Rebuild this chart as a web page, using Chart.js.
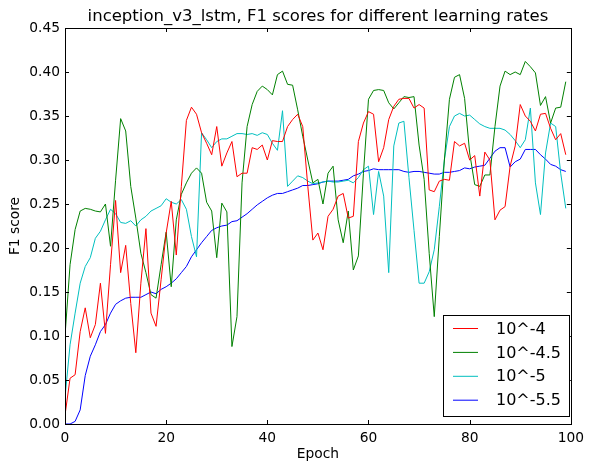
<!DOCTYPE html>
<html>
<head>
<meta charset="utf-8">
<script src="https://cdn.jsdelivr.net/npm/chart.js@4"></script>
<style>
  body { margin: 0; background: #fff; }
  canvas { display: block; }
</style>
</head>
<body>
<canvas id="f1Chart" width="590" height="464"></canvas>
<script>
// epochs on the x axis
const epochs = [
  0, 1, 2, 3, 4, 5, 6, 7, 8, 9, 10, 11, 12, 13, 14, 15, 16, 17, 18, 19,
  20, 21, 22, 23, 24, 25, 26, 27, 28, 29, 30, 31, 32, 33, 34, 35, 36, 37, 38, 39,
  40, 41, 42, 43, 44, 45, 46, 47, 48, 49, 50, 51, 52, 53, 54, 55, 56, 57, 58, 59,
  60, 61, 62, 63, 64, 65, 66, 67, 68, 69, 70, 71, 72, 73, 74, 75, 76, 77, 78, 79,
  80, 81, 82, 83, 84, 85, 86, 87, 88, 89, 90, 91, 92, 93, 94, 95, 96, 97, 98, 99
];

// F1 score per learning rate
const lr_4 = [
  0.010, 0.052, 0.056, 0.105, 0.132, 0.098, 0.113, 0.160, 0.103, 0.181,
  0.254, 0.172, 0.203, 0.137, 0.081, 0.160, 0.222, 0.126, 0.111, 0.164,
  0.217, 0.253, 0.192, 0.270, 0.345, 0.360, 0.352, 0.331, 0.319, 0.306,
  0.338, 0.293, 0.308, 0.321, 0.281, 0.285, 0.285, 0.314, 0.312, 0.317,
  0.300, 0.322, 0.321, 0.321, 0.338, 0.346, 0.352, 0.338, 0.270, 0.209,
  0.217, 0.198, 0.236, 0.244, 0.259, 0.262, 0.234, 0.236, 0.321, 0.342,
  0.355, 0.352, 0.298, 0.314, 0.346, 0.361, 0.369, 0.370, 0.370, 0.359,
  0.363, 0.359, 0.266, 0.264, 0.276, 0.278, 0.277, 0.321, 0.316, 0.319,
  0.300, 0.305, 0.259, 0.309, 0.300, 0.232, 0.243, 0.247, 0.293, 0.316,
  0.363, 0.350, 0.344, 0.333, 0.352, 0.353, 0.336, 0.323, 0.330, 0.306
];
const lr_4_5 = [
  0.100, 0.181, 0.221, 0.242, 0.245, 0.244, 0.242, 0.241, 0.250, 0.202,
  0.277, 0.347, 0.333, 0.270, 0.234, 0.194, 0.172, 0.147, 0.143, 0.181,
  0.218, 0.156, 0.232, 0.261, 0.274, 0.285, 0.291, 0.285, 0.252, 0.242,
  0.189, 0.251, 0.241, 0.088, 0.122, 0.274, 0.338, 0.363, 0.378, 0.384,
  0.380, 0.374, 0.397, 0.401, 0.386, 0.385, 0.357, 0.327, 0.300, 0.274,
  0.278, 0.250, 0.285, 0.293, 0.232, 0.206, 0.242, 0.175, 0.191, 0.285,
  0.369, 0.379, 0.380, 0.379, 0.365, 0.358, 0.365, 0.372, 0.371, 0.372,
  0.317, 0.278, 0.194, 0.122, 0.213, 0.300, 0.369, 0.394, 0.397, 0.370,
  0.308, 0.272, 0.270, 0.283, 0.283, 0.338, 0.384, 0.401, 0.397, 0.400,
  0.397, 0.412, 0.406, 0.399, 0.362, 0.372, 0.342, 0.359, 0.360, 0.389
];
const lr_5 = [
  0.030, 0.090, 0.126, 0.160, 0.179, 0.189, 0.211, 0.219, 0.232, 0.244,
  0.239, 0.229, 0.228, 0.231, 0.225, 0.232, 0.236, 0.242, 0.245, 0.248,
  0.256, 0.252, 0.250, 0.255, 0.244, 0.213, 0.190, 0.331, 0.323, 0.314,
  0.321, 0.324, 0.324, 0.327, 0.330, 0.330, 0.329, 0.330, 0.328, 0.331,
  0.329, 0.319, 0.311, 0.356, 0.270, 0.276, 0.282, 0.280, 0.276, 0.273,
  0.274, 0.275, 0.276, 0.275, 0.275, 0.276, 0.277, 0.274, 0.280, 0.289,
  0.293, 0.238, 0.287, 0.259, 0.172, 0.316, 0.342, 0.344, 0.280, 0.220,
  0.160, 0.160, 0.173, 0.198, 0.247, 0.300, 0.338, 0.350, 0.353, 0.350,
  0.351, 0.346, 0.341, 0.338, 0.336, 0.336, 0.336, 0.334, 0.329, 0.322,
  0.314, 0.323, 0.359, 0.274, 0.238, 0.308, 0.342, 0.338, 0.285, 0.245
];
const lr_5_5 = [
  0.000, 0.000, 0.003, 0.016, 0.055, 0.077, 0.090, 0.105, 0.113, 0.126,
  0.136, 0.140, 0.143, 0.144, 0.144, 0.144, 0.147, 0.150, 0.148, 0.153,
  0.156, 0.160, 0.165, 0.172, 0.179, 0.190, 0.198, 0.206, 0.213, 0.220,
  0.223, 0.225, 0.226, 0.230, 0.231, 0.235, 0.239, 0.244, 0.249, 0.253,
  0.257, 0.260, 0.262, 0.262, 0.264, 0.266, 0.268, 0.271, 0.271, 0.272,
  0.273, 0.275, 0.276, 0.276, 0.276, 0.277, 0.278, 0.282, 0.284, 0.287,
  0.288, 0.290, 0.289, 0.289, 0.289, 0.289, 0.289, 0.287, 0.286, 0.287,
  0.287, 0.286, 0.285, 0.284, 0.284, 0.286, 0.286, 0.287, 0.288, 0.291,
  0.290, 0.292, 0.293, 0.294, 0.302, 0.310, 0.314, 0.314, 0.292, 0.298,
  0.301, 0.312, 0.312, 0.312, 0.306, 0.301, 0.295, 0.293, 0.289, 0.287
];

const chartTitle = "inception_v3_lstm, F1 scores for different learning rates";
const seriesLabels = ["10^-4", "10^-4.5", "10^-5", "10^-5.5"];
const seriesColors = ["#ff0000", "#008000", "#00bfbf", "#0000ff"];
const xTicks = [0, 20, 40, 60, 80, 100];
const yTicks = [0, 0.05, 0.10, 0.15, 0.20, 0.25, 0.30, 0.35, 0.40, 0.45];

const FONT = "'DejaVu Sans', sans-serif";

function toPoints(values) {
  return values.map((v, i) => ({ x: epochs[i], y: v }));
}

// matplotlib-like frame: title over the axes, black box, inward ticks, legend lower right
const framePlugin = {
  id: "frame",
  afterDraw(chart) {
    const ctx = chart.ctx;
    const a = chart.chartArea;
    const xs = chart.scales.x, ys = chart.scales.y;
    ctx.save();

    // title centred on the plot area, not the canvas
    ctx.fillStyle = "#000";
    ctx.font = "16.5px " + FONT;
    ctx.textAlign = "center";
    ctx.textBaseline = "middle";
    ctx.fillText(chartTitle, (a.left + a.right) / 2, 17);

    ctx.strokeStyle = "#000";
    ctx.lineWidth = 1;
    ctx.beginPath();
    xTicks.forEach(t => {
      const px = Math.round(xs.getPixelForValue(t)) + 0.5;
      ctx.moveTo(px, a.bottom); ctx.lineTo(px, a.bottom - 4);
      ctx.moveTo(px, a.top); ctx.lineTo(px, a.top + 4);
    });
    yTicks.forEach(t => {
      const py = Math.round(ys.getPixelForValue(t)) + 0.5;
      ctx.moveTo(a.left, py); ctx.lineTo(a.left + 4, py);
      ctx.moveTo(a.right, py); ctx.lineTo(a.right - 4, py);
    });
    ctx.stroke();
    ctx.strokeRect(Math.round(a.left) + 0.5, Math.round(a.top) + 0.5,
      Math.round(a.right - a.left), Math.round(a.bottom - a.top));

    // legend
    const lx = 443.5, ly = 315.5, lw = 126, lh = 101;
    ctx.fillStyle = "#fff";
    ctx.fillRect(lx, ly, lw, lh);
    ctx.strokeRect(lx, ly, lw, lh);
    ctx.font = "16px " + FONT;
    ctx.textAlign = "left";
    ctx.textBaseline = "middle";
    chart.data.datasets.forEach((ds, i) => {
      const y = 328.5 + i * 23.9;
      ctx.strokeStyle = ds.borderColor;
      ctx.beginPath();
      ctx.moveTo(453, y); ctx.lineTo(478, y);
      ctx.stroke();
      ctx.fillStyle = "#000";
      ctx.fillText(ds.label, 496, y + 1);
    });
    ctx.restore();
  }
};

const allSeries = [lr_4, lr_4_5, lr_5, lr_5_5];

new Chart(document.getElementById("f1Chart").getContext("2d"), {
  type: "line",
  data: {
    datasets: allSeries.map((vals, i) => ({
      label: seriesLabels[i],
      data: toPoints(vals),
      borderColor: seriesColors[i],
      backgroundColor: seriesColors[i],
      borderWidth: 1,
      pointRadius: 0,
      tension: 0,
      fill: false
    }))
  },
  options: {
    responsive: false,
    animation: false,
    devicePixelRatio: 1,
    layout: { padding: { left: 0, right: 12, top: 28, bottom: 0 } },
    plugins: {
      legend: { display: false },
      tooltip: { enabled: false },
      title: { display: false }
    },
    scales: {
      x: {
        type: "linear",
        min: 0,
        max: 100,
        afterFit: s => { s.height = 40; },
        afterBuildTicks: s => { s.ticks = xTicks.map(v => ({ value: v })); },
        grid: { display: false, drawTicks: false },
        border: { display: false },
        ticks: {
          color: "#000",
          font: { family: FONT, size: 13.8 },
          padding: 6,
          maxRotation: 0,
          autoSkip: false
        },
        title: {
          display: true,
          text: "Epoch",
          color: "#000",
          font: { family: FONT, size: 13.8 },
          padding: { top: 0, bottom: 1 }
        }
      },
      y: {
        min: 0,
        max: 0.45,
        afterFit: s => { s.width = 65; },
        afterBuildTicks: s => { s.ticks = yTicks.map(v => ({ value: v })); },
        grid: { display: false, drawTicks: false },
        border: { display: false },
        ticks: {
          color: "#000",
          font: { family: FONT, size: 13.8 },
          padding: 5,
          callback: v => v.toFixed(2)
        },
        title: {
          display: true,
          text: "F1 score",
          color: "#000",
          font: { family: FONT, size: 13.8 },
          padding: { top: 7, bottom: 0 }
        }
      }
    }
  },
  plugins: [framePlugin]
});
</script>
</body>
</html>
